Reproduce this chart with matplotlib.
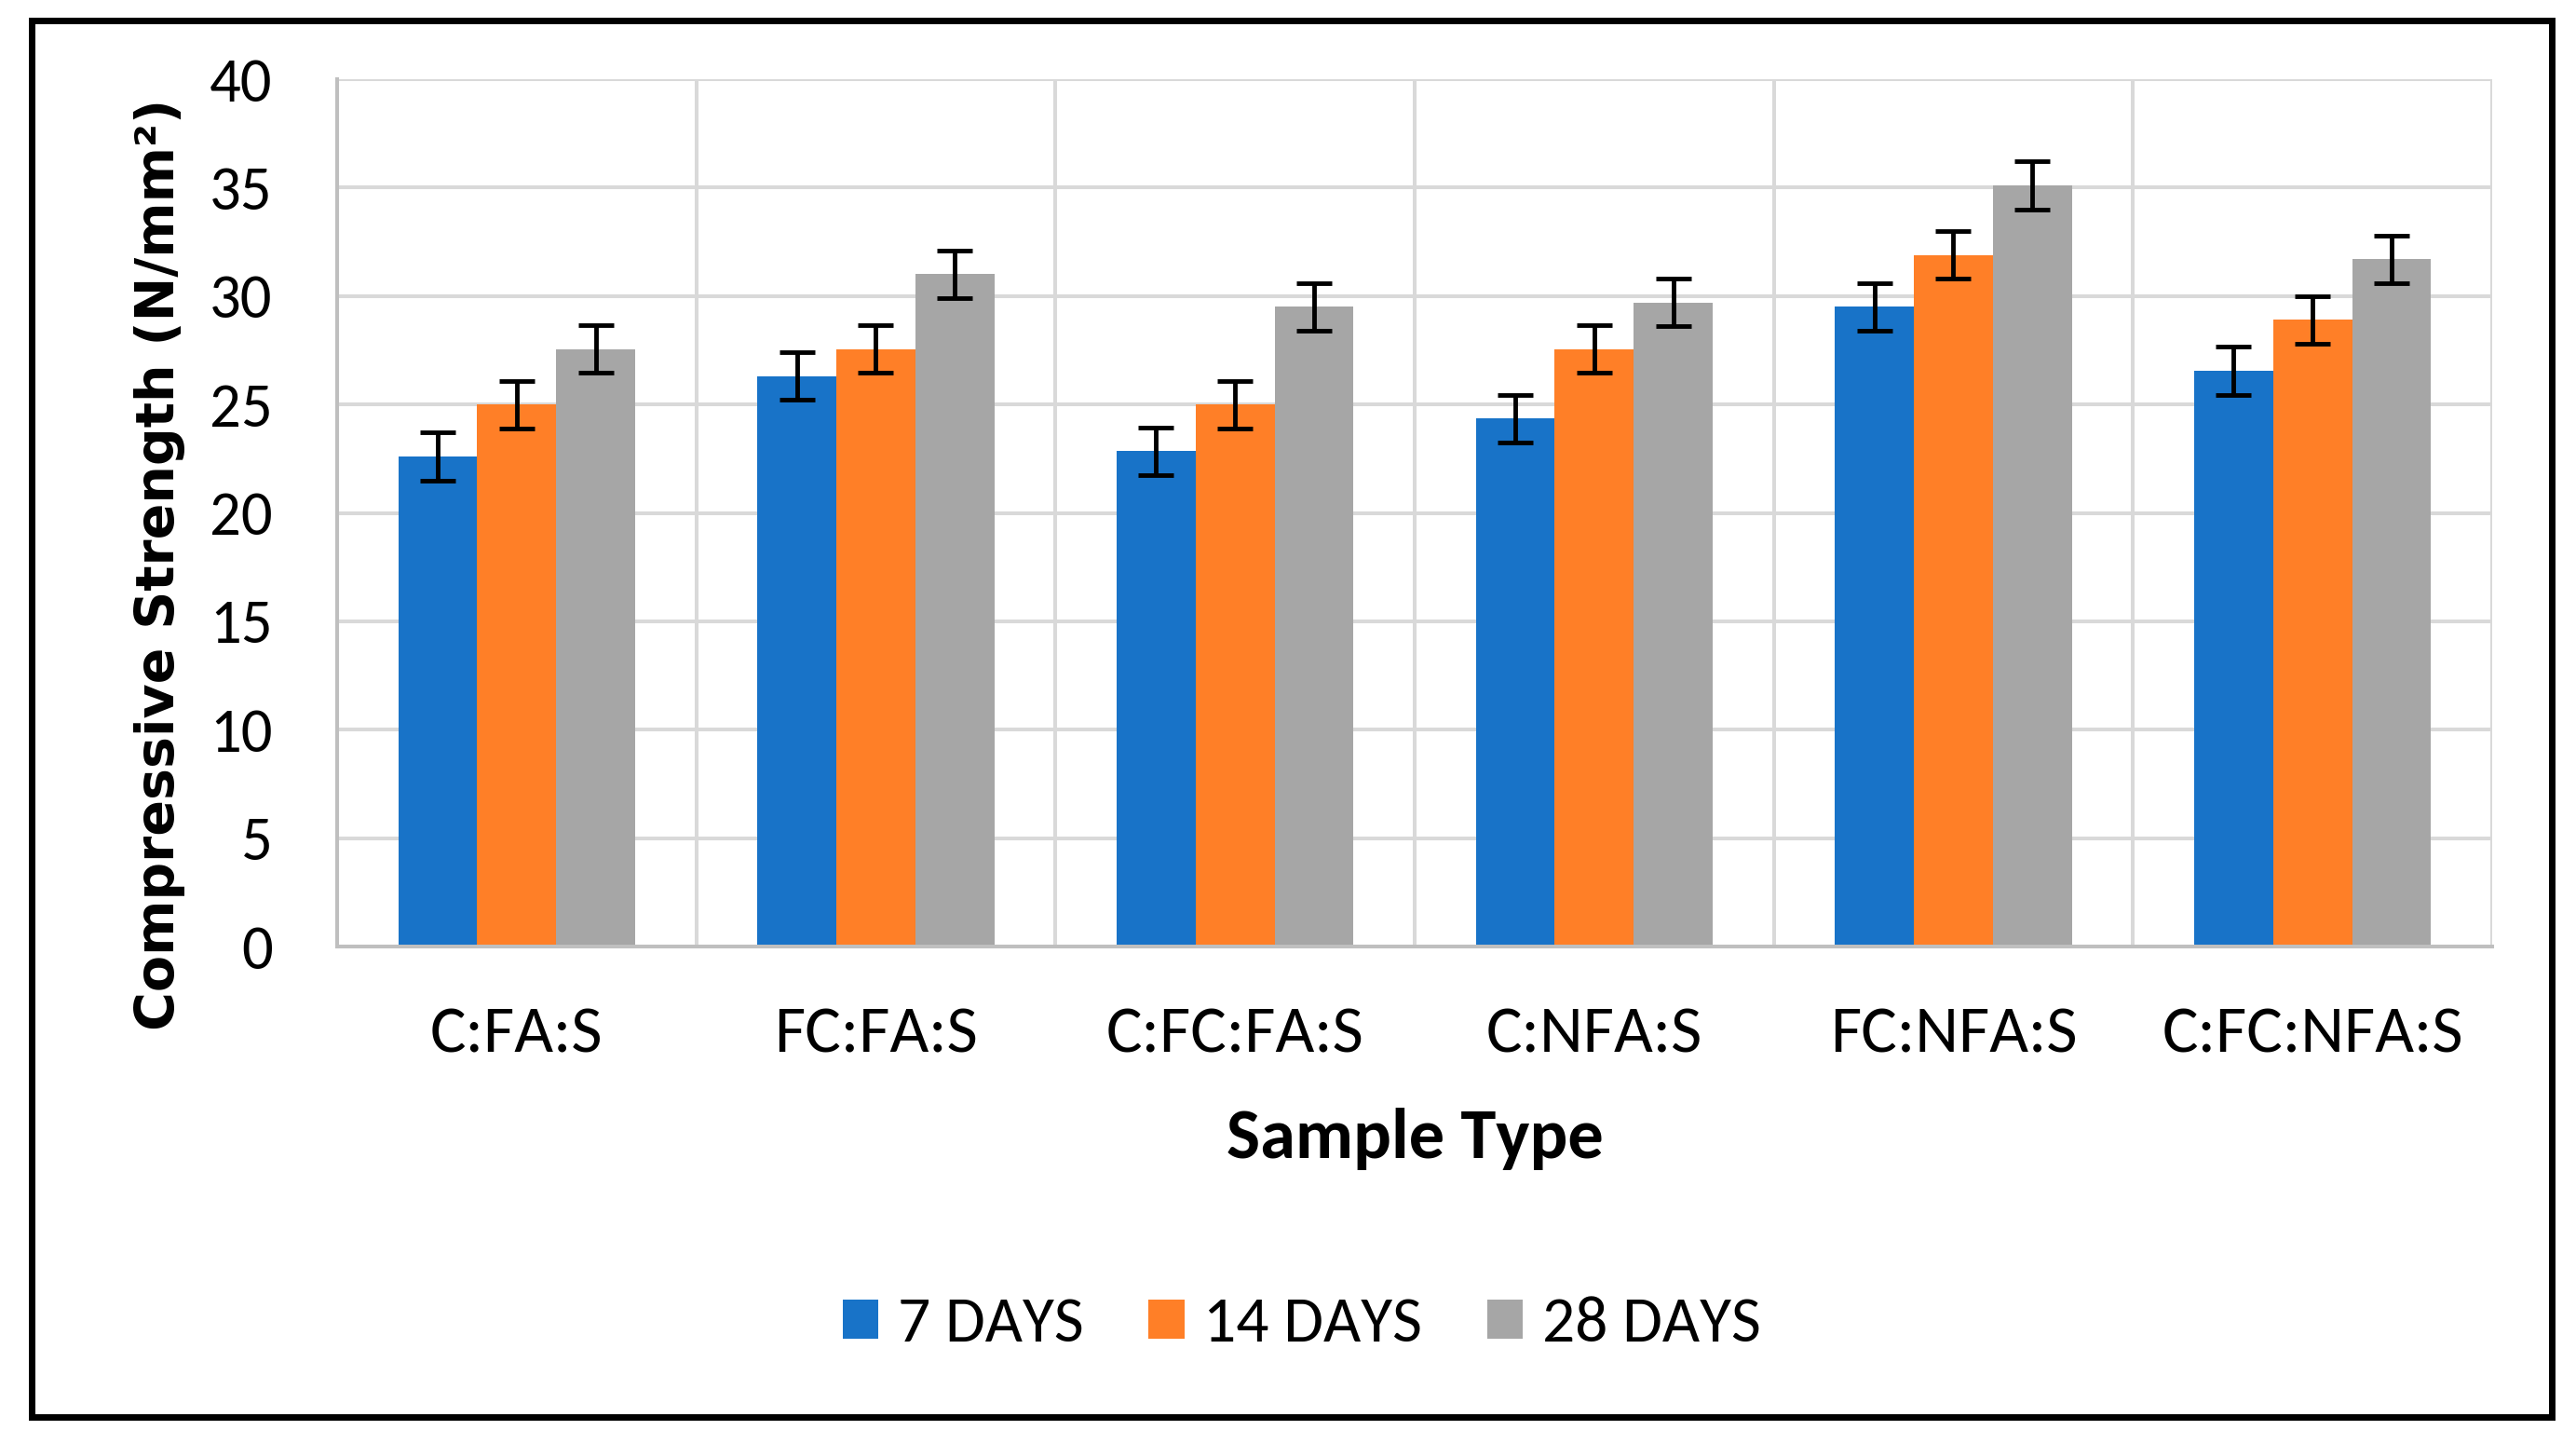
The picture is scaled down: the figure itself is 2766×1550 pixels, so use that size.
import matplotlib
matplotlib.use('Agg')
import matplotlib.pyplot as plt
import numpy as np
from matplotlib import font_manager
from matplotlib.patches import Rectangle

samples = ['C:FA:S', 'FC:FA:S', 'C:FC:FA:S', 'C:NFA:S', 'FC:NFA:S', 'C:FC:NFA:S']
series = ['7 DAYS', '14 DAYS', '28 DAYS']
days7 = [22.6, 26.3, 22.85, 24.35, 29.5, 26.55]
days14 = [25.0, 27.55, 25.0, 27.55, 31.9, 28.9]
days28 = [27.55, 31.0, 29.5, 29.7, 35.1, 31.7]
err7 = [1.1, 1.1, 1.1, 1.1, 1.1, 1.1]
err14 = [1.1, 1.1, 1.1, 1.1, 1.1, 1.1]
err28 = [1.1, 1.1, 1.1, 1.1, 1.1, 1.1]
colors = ['#1873C8', '#FF7F27', '#A6A6A6']

# Calibri-like font if there is one
names = {f.name for f in font_manager.fontManager.ttflist}
font = 'Liberation Sans'
scale = 0.85
for cand in ['Carlito', 'Liberation Sans Narrow', 'Roboto Condensed', 'PT Sans Narrow', 'Archivo Narrow']:
    if cand in names:
        font = cand
        scale = 1.0
        break

W, H = 2766, 1550
fig = plt.figure(figsize=(W / 100, H / 100), dpi=100)
# plot area in pixels: x 362..2676, y 85..1016
ax = fig.add_axes([362 / W, 1 - 1016 / H, (2676 - 362) / W, (1016 - 85) / H])

x = np.arange(len(samples))
bw = 0.22
grid_c = '#D9D9D9'

ax.set_axisbelow(True)
for i, (vals, errs) in enumerate(zip([days7, days14, days28], [err7, err14, err28])):
    ax.bar(x + (i - 1) * bw, vals, bw, color=colors[i], label=series[i], zorder=2)
    ax.errorbar(x + (i - 1) * bw, vals, yerr=errs, fmt='none', ecolor='black',
                elinewidth=3.5, capsize=14, capthick=3.5, zorder=3)

ax.set_xlim(-0.5, len(samples) - 0.5)
ax.set_ylim(0, 40)
ax.set_yticks(np.arange(0, 41, 5))
ax.set_xticks(x)
ax.set_xticklabels(samples)

# vertical separators between categories
for b in np.arange(-0.5, len(samples), 1.0):
    ax.axvline(b, color=grid_c, lw=2.9, zorder=0)
ax.yaxis.grid(True, color=grid_c, lw=2.9, zorder=0)

for s in ['top', 'right']:
    ax.spines[s].set_visible(False)
for s in ['left', 'bottom']:
    ax.spines[s].set_color('#BFBFBF')
    ax.spines[s].set_linewidth(2.9)
    ax.spines[s].set_zorder(4)

ax.tick_params(axis='both', length=0)
ax.tick_params(axis='y', pad=50)
ax.tick_params(axis='x', pad=46)
for lab in ax.get_yticklabels():
    lab.set_fontfamily(font)
    lab.set_fontsize(48 * scale)
for lab in ax.get_xticklabels():
    lab.set_fontfamily(font)
    lab.set_fontsize(52 * scale)

fig.text(0.5 * (362 + 2676) / W, 1 - 1222 / H, 'Sample Type', ha='center', va='center',
         fontsize=55 * scale, fontweight='bold', family=font)
fig.text(172 / W, 1 - 606 / H, 'Compressive Strength (N/mm²)', rotation=90,
         ha='center', va='center', fontsize=41, fontweight='bold', family='DejaVu Sans')

fig.legend(loc='center', bbox_to_anchor=(1398 / W, 1 - 1422 / H), ncol=3, frameon=False,
           prop={'family': font, 'size': 50 * scale}, handlelength=0.55, handleheight=0.55,
           handletextpad=0.3, columnspacing=1.0)

# outer black frame
fig.patches.append(Rectangle((34 / W, 1 - 1521 / H), (2740 - 34) / W, (1521 - 22) / H,
                             transform=fig.transFigure, fill=False, edgecolor='black',
                             linewidth=5))

fig.savefig('out.png', dpi=100)
